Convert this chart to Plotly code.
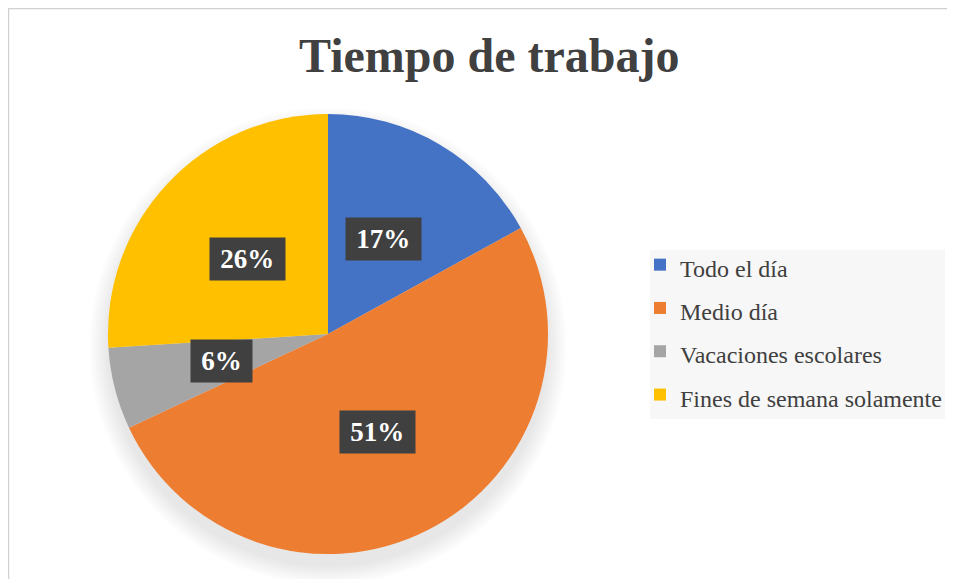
import math
import plotly.graph_objects as go

categories = ["Todo el día", "Medio día", "Vacaciones escolares", "Fines de semana solamente"]
values = [17, 51, 6, 26]
colors = ["#4472C4", "#ED7D31", "#A5A5A5", "#FFC000"]
title_text = "Tiempo de trabajo"

W, H = 955, 579
OFF = 8  # page body margin


def px(x):
    return (x - OFF) / W


def py(y):
    return (H - (y - OFF)) / H


# pie geometry in screen pixels
cx, cy, R = 328, 334, 220

fig = go.Figure()
fig.add_trace(go.Pie(
    labels=[f'<span style="font-size:24px">{c}</span>' for c in categories],
    values=values,
    sort=False,
    direction="clockwise",
    rotation=0,
    marker=dict(colors=colors, line=dict(width=0)),
    textinfo="none",
    hoverinfo="skip",
    domain=dict(x=[px(cx - R), px(cx + R)], y=[py(cy + R), py(cy - R)]),
    showlegend=True,
))

total = sum(values)
cum = 0
annotations = []
for v in values:
    mid = (cum + v / 2) / total * 2 * math.pi
    cum += v
    lx = cx + 0.5 * R * math.sin(mid)
    ly = cy - 0.5 * R * math.cos(mid)
    txt = f"{round(v / total * 100)}%"
    annotations.append(dict(
        x=px(lx), y=py(ly), xref="paper", yref="paper",
        text=f"<b>{txt}</b>", showarrow=False,
        font=dict(family="Liberation Serif", size=27, color="white"),
        bgcolor="#404040", width=13.5 * len(txt) + 32, height=40,
        xanchor="center", yanchor="middle",
    ))

annotations.append(dict(
    x=px(489), y=py(56), xref="paper", yref="paper",
    text=f"<b>{title_text}</b>", showarrow=False,
    font=dict(family="Liberation Serif", size=48, color="#404040"),
    xanchor="center", yanchor="middle",
))

shapes = [
    dict(type="rect", xref="paper", yref="paper",
         x0=0.6 / W, x1=1.05, y0=-0.05, y1=(H - 0.6) / H,
         line=dict(color="#D0D0D0", width=1.2), layer="below"),
    dict(type="rect", xref="paper", yref="paper",
         x0=px(650), x1=px(945), y0=py(419), y1=py(250),
         fillcolor="#F7F7F7", line=dict(width=0), layer="below"),
]
# soft shadow under the pie
for k in range(8):
    r = R + 1 + 2.5 * k
    sy = cy + 12
    shapes.append(dict(type="circle", xref="paper", yref="paper",
                       x0=px(cx - r), x1=px(cx + r), y0=py(sy + r), y1=py(sy - r),
                       fillcolor="rgba(0,0,0,0.011)", line=dict(width=0), layer="below"))

fig.update_layout(
    width=W, height=H,
    margin=dict(l=0, r=0, t=0, b=0),
    paper_bgcolor="white",
    font=dict(family="Liberation Serif", color="#404040"),
    annotations=annotations,
    legend=dict(
        x=px(640), y=py(238), xanchor="left", yanchor="top",
        bgcolor="rgba(0,0,0,0)", font=dict(family="Liberation Serif", size=31, color="#404040"),
        itemclick=False, borderwidth=0,
    ),
    shapes=shapes,
)

fig.write_html("out.html")
